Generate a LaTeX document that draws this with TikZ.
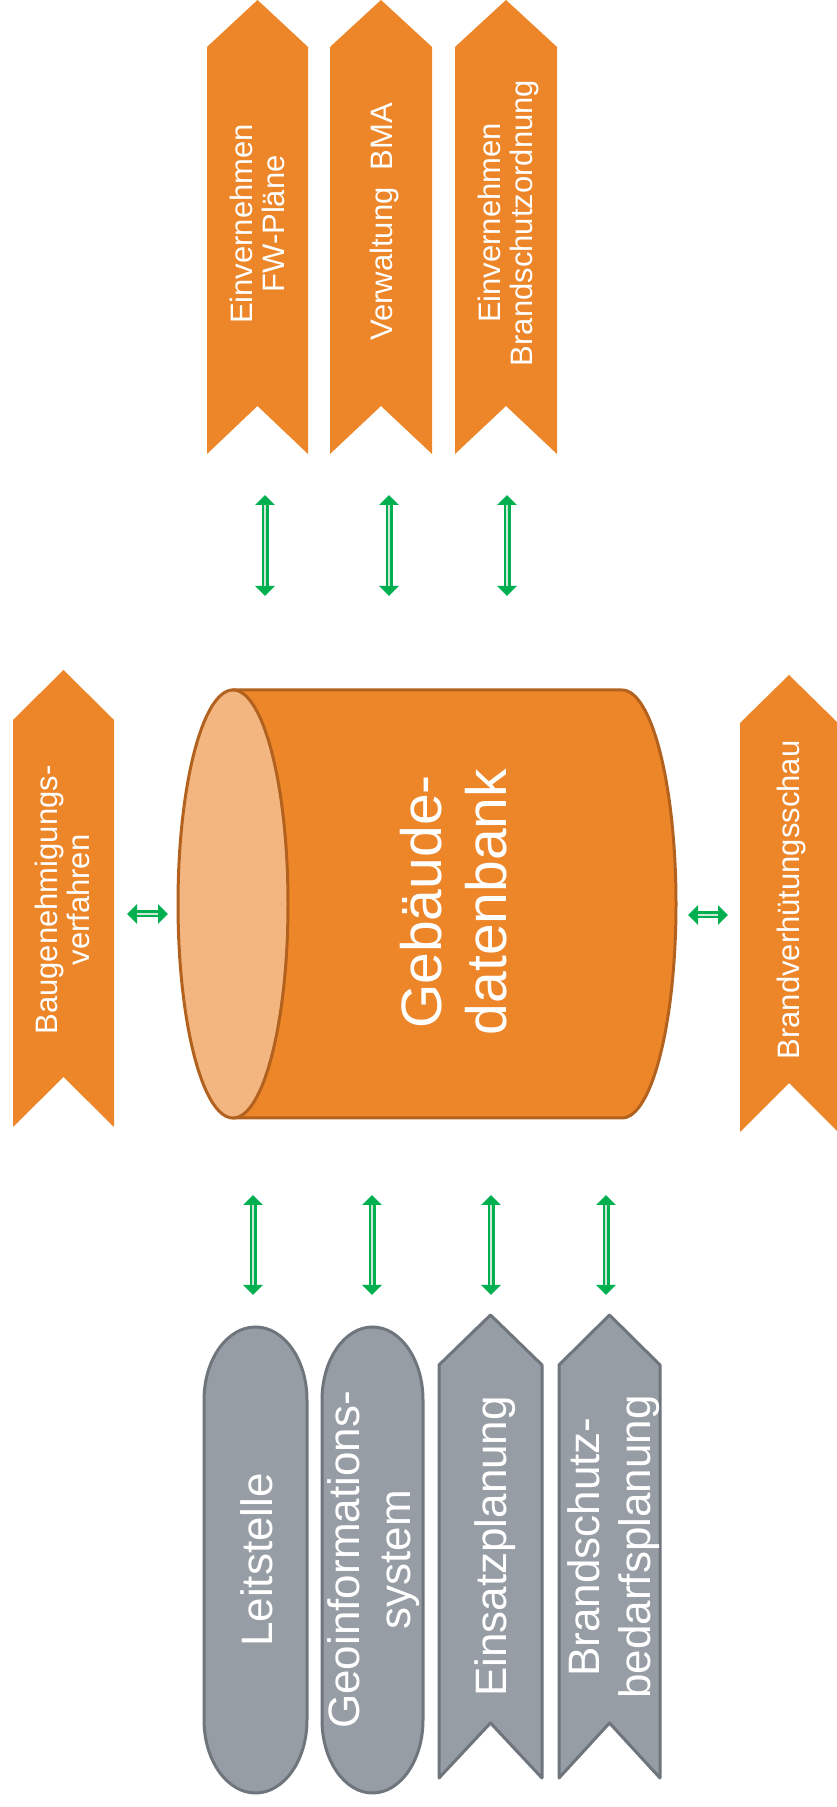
\documentclass[tikz,border=0pt]{standalone}
\usepackage{fontspec}
\setmainfont{Liberation Sans}
\usepackage{xcolor}
\usepackage{tikz}
\usetikzlibrary{arrows.meta,positioning}

\definecolor{orangefill}{RGB}{237,133,41}
\definecolor{orangelight}{RGB}{244,182,128}
\definecolor{orangedark}{RGB}{178,98,30}
\definecolor{grayfill}{RGB}{151,157,165}
\definecolor{grayline}{RGB}{110,117,124}
\definecolor{arrowgreen}{RGB}{0,176,80}
\definecolor{arrowlight}{RGB}{205,232,214}

\tikzset{
  lbl/.style={text=white,align=center,rotate=90,inner sep=0pt,font=\fontsize{31}{32}\selectfont},
  biglbl/.style={lbl,font=\fontsize{44}{51}\selectfont},
  orangebox/.style={fill=orangefill},
  graybox/.style={fill=grayfill,draw=grayline,line width=3pt,line join=round},
  link/.style={line width=7pt,draw=arrowgreen,
    {Triangle[width=19pt,length=10pt]}-{Triangle[width=19pt,length=10pt]},
    postaction={draw=arrowlight,line width=1.5pt,-,shorten <=10pt,shorten >=10pt}}
}

\begin{document}
\begin{tikzpicture}[x=1pt,y=1pt]
\useasboundingbox (0,0) rectangle (836,1807);
% top row
\fill[orangebox] (207,1760) -- (257.5,1807) -- (308,1760) -- (308,1353) -- (257.5,1401) -- (207,1353) -- cycle;
\fill[orangebox] (330,1760) -- (381,1807) -- (432,1760) -- (432,1353) -- (381,1401) -- (330,1353) -- cycle;
\fill[orangebox] (455,1760) -- (506,1807) -- (557,1760) -- (557,1353) -- (506,1401) -- (455,1353) -- cycle;
\node[lbl] (fwplan) at (257.5,1583) {Einvernehmen\\FW-Pläne};
\node[lbl] (bma) at (384,1585) {Verwaltung\ \ BMA};
\node[lbl] (bso) at (508,1584) {Einvernehmen\\Brandschutzordnung};

% left and right
\fill[orangebox] (13,1087) -- (63.5,1137) -- (114,1087) -- (114,680) -- (63.5,730) -- (13,680) -- cycle;
\fill[orangebox] (740,1084) -- (789,1132) -- (838,1084) -- (838,675) -- (789,724) -- (740,675) -- cycle;
\node[lbl] (baugen) at (62.5,907) {Baugenehmigungs-\\verfahren};
\node[lbl] (bvs) at (791,907) {Brandverhütungsschau};

% database
\draw[fill=orangefill,draw=orangedark,line width=3pt] (233,1117) -- (622,1117)
  arc[start angle=90,end angle=-90,x radius=54,y radius=214] -- (233,689) -- cycle;
\draw[fill=orangelight,draw=orangedark,line width=3pt] (233,903) ellipse[x radius=55,y radius=214];
\node[lbl,font=\fontsize{57}{65}\selectfont] (gdb) at (454,905) {Gebäude-\\datenbank};

% bottom row
\draw[graybox] (204,407) -- (204,87) arc[start angle=180,end angle=360,x radius=51.5,y radius=73]
  -- (307,407) arc[start angle=0,end angle=180,x radius=51.5,y radius=73] -- cycle;
\draw[graybox] (322,407) -- (322,87) arc[start angle=180,end angle=360,x radius=50.5,y radius=73]
  -- (423,407) arc[start angle=0,end angle=180,x radius=50.5,y radius=73] -- cycle;
\draw[graybox] (439,442) -- (490.5,492) -- (542,442) -- (542,29) -- (490.5,84) -- (439,29) -- cycle;
\draw[graybox] (559,442) -- (609.5,492) -- (660,442) -- (660,29) -- (609.5,84) -- (559,29) -- cycle;
\node[biglbl] (leit) at (257,247) {Leitstelle};
\node[biglbl] (geo) at (374,247) {Geoinformations-\\system};
\node[biglbl] (einsatz) at (495,260.5) {Einsatzplanung};
\node[biglbl] (bsbp) at (614,260) {Brandschutz-\\bedarfsplanung};

% link ends
\coordinate (fwA) at (265,1312); \coordinate (fwB) at (265,1211);
\coordinate (bmaA) at (389,1312); \coordinate (bmaB) at (389,1211);
\coordinate (bsoA) at (507,1312); \coordinate (bsoB) at (507,1211);
\coordinate (baugenA) at (127,893); \coordinate (baugenB) at (168,893);
\coordinate (bvsA) at (688,892); \coordinate (bvsB) at (728,892);
\coordinate (leitA) at (253,612); \coordinate (leitB) at (253,512);
\coordinate (geoA) at (372,612); \coordinate (geoB) at (372,512);
\coordinate (einsatzA) at (491,612); \coordinate (einsatzB) at (491,512);
\coordinate (bsbpA) at (606,612); \coordinate (bsbpB) at (606,512);

\draw[link] (fwA) -- (fwB);
\draw[link] (bmaA) -- (bmaB);
\draw[link] (bsoA) -- (bsoB);
\draw[link] (baugenA) -- (baugenB);
\draw[link] (bvsA) -- (bvsB);
\draw[link] (leitA) -- (leitB);
\draw[link] (geoA) -- (geoB);
\draw[link] (einsatzA) -- (einsatzB);
\draw[link] (bsbpA) -- (bsbpB);
\end{tikzpicture}
\end{document}
